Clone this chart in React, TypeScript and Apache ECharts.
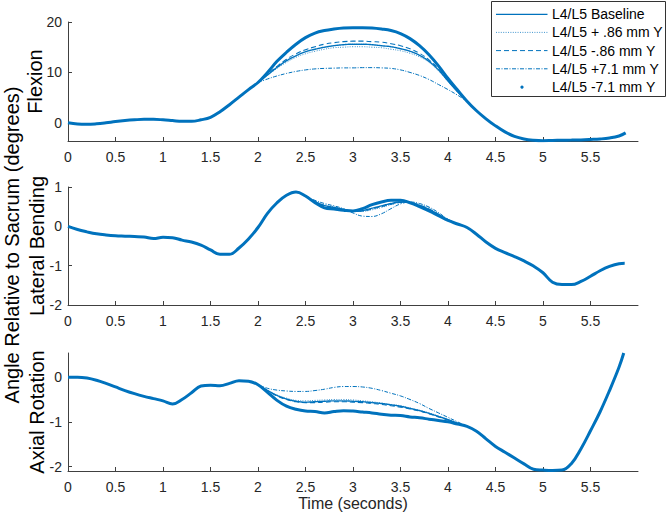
import React, { useEffect, useRef } from "react";
import * as echarts from "echarts";

const FONT = "'Liberation Sans', Arial, Helvetica, sans-serif";
const BLUE = "#0072BD";
const AXIS = "#404040";

const seriesNames = [
  "L4/L5 Baseline",
  "L4/L5 + .86 mm Y",
  "L4/L5 -.86 mm Y",
  "L4/L5 +7.1 mm Y",
  "L4/L5 -7.1 mm Y",
];
const panelTitles = ["Flexion", "Lateral Bending", "Axial Rotation"];
const mainYLabel = "Angle Relative to Sacrum (degrees)";
const xLabel = "Time (seconds)";
const xTicks = [0, 0.5, 1, 1.5, 2, 2.5, 3, 3.5, 4, 4.5, 5, 5.5];
const flexTicks = [0, 10, 20];
const latTicks = [-2, -1, 0, 1];
const axTicks = [-2, -1, 0];

// time samples of the baseline curves
const tBase = [
  0, 0.1, 0.2, 0.3, 0.4, 0.5, 0.6, 0.7, 0.8, 0.9, 1.0, 1.1, 1.2, 1.3, 1.4, 1.5, 1.6, 1.7, 1.8, 1.9,
  2.0, 2.1, 2.2, 2.3, 2.4, 2.5, 2.6, 2.7, 2.8, 2.9, 3.0, 3.1, 3.2, 3.3, 3.4, 3.5, 3.6, 3.7, 3.8, 3.9,
  4.0, 4.1, 4.2, 4.3, 4.4, 4.5, 4.6, 4.7, 4.8, 4.9, 5.0, 5.1, 5.2, 5.3, 5.4, 5.5, 5.6, 5.7, 5.8,
];

// ---- Flexion ----
const flexBaseline = [
  0, -0.25, -0.3, -0.2, 0.0, 0.25, 0.45, 0.6, 0.7, 0.7, 0.6, 0.45, 0.3, 0.3, 0.6, 1.1, 2.2, 3.6, 5.1, 6.6,
  8.0, 10.0, 12.2, 14.0, 15.6, 16.9, 17.8, 18.3, 18.6, 18.8, 18.85, 18.85, 18.8, 18.6, 18.3, 17.7, 16.7, 15.3, 13.5, 11.3,
  8.8, 6.5, 4.3, 2.4, 0.8, -0.6, -1.8, -2.7, -3.2, -3.45, -3.55, -3.5, -3.45, -3.42, -3.38, -3.3, -3.2, -3.0, -2.6,
];
const flexEnd = [5.87, -2.0];
const tFlexWin = [2.0, 2.1, 2.2, 2.3, 2.4, 2.5, 2.6, 2.7, 2.8, 2.9, 3.0, 3.1, 3.2, 3.3, 3.4, 3.5, 3.6, 3.7, 3.8, 3.9, 4.0, 4.1, 4.2];
const flexPlus086 = [8.0, 9.4, 10.8, 12.0, 13.0, 13.7, 14.2, 14.6, 14.9, 15.0, 15.1, 15.1, 15.0, 14.9, 14.6, 14.3, 13.8, 13.1, 12.0, 10.3, 8.2, 6.1, 4.3];
const flexMinus086 = [8.0, 9.6, 11.2, 12.6, 13.7, 14.5, 15.1, 15.6, 15.9, 16.1, 16.2, 16.2, 16.1, 16.0, 15.7, 15.3, 14.7, 13.8, 12.5, 10.7, 8.4, 6.3, 4.3];
const flexPlus71 = [8.0, 8.7, 9.3, 9.8, 10.2, 10.5, 10.7, 10.8, 10.85, 10.9, 10.9, 10.95, 10.95, 10.9, 10.8, 10.5, 10.0, 9.4, 8.6, 7.6, 6.6, 5.5, 4.3];
const flexMinus71 = [8.0, 9.5, 11.0, 12.3, 13.3, 14.1, 14.6, 15.0, 15.3, 15.5, 15.6, 15.6, 15.5, 15.3, 15.1, 14.7, 14.2, 13.4, 12.2, 10.5, 8.3, 6.2, 4.3];

// ---- Lateral bending ----
const latBaseline = [
  0, -0.08, -0.14, -0.19, -0.22, -0.24, -0.25, -0.26, -0.27, -0.31, -0.28, -0.29, -0.35, -0.4, -0.48, -0.6, -0.71, -0.71, -0.55, -0.32,
  -0.03, 0.33, 0.6, 0.79, 0.87, 0.77, 0.6, 0.47, 0.44, 0.41, 0.39, 0.45, 0.55, 0.62, 0.66, 0.66, 0.6, 0.5, 0.39, 0.27,
  0.15, 0.06, -0.03, -0.2, -0.4, -0.56, -0.67, -0.77, -0.88, -1.01, -1.18, -1.42, -1.48, -1.48, -1.4, -1.27, -1.13, -1.02, -0.95,
];
const latEnd = [5.86, -0.94];
const tLatWin = [2.5, 2.6, 2.7, 2.8, 2.9, 3.0, 3.1, 3.2, 3.3, 3.4, 3.5, 3.6, 3.7, 3.8, 3.9, 4.0, 4.1];
const latPlus086 = [0.77, 0.64, 0.55, 0.5, 0.44, 0.38, 0.38, 0.42, 0.48, 0.55, 0.6, 0.61, 0.56, 0.46, 0.33, 0.17, 0.06];
const latMinus086 = [0.77, 0.62, 0.51, 0.47, 0.43, 0.38, 0.39, 0.44, 0.5, 0.56, 0.61, 0.6, 0.54, 0.44, 0.31, 0.16, 0.06];
const latPlus71 = [0.77, 0.66, 0.58, 0.52, 0.45, 0.34, 0.26, 0.25, 0.32, 0.45, 0.57, 0.62, 0.58, 0.49, 0.35, 0.18, 0.06];
const latMinus71 = [0.77, 0.63, 0.53, 0.48, 0.43, 0.38, 0.4, 0.46, 0.52, 0.58, 0.62, 0.6, 0.53, 0.43, 0.3, 0.16, 0.06];

// ---- Axial rotation ----
const axBaseline = [
  0, 0.0, -0.02, -0.07, -0.14, -0.22, -0.3, -0.37, -0.43, -0.48, -0.53, -0.6, -0.5, -0.35, -0.2, -0.18, -0.19, -0.14, -0.08, -0.09,
  -0.17, -0.34, -0.52, -0.65, -0.72, -0.76, -0.77, -0.8, -0.77, -0.75, -0.76, -0.78, -0.8, -0.83, -0.85, -0.86, -0.89, -0.91, -0.94, -0.97,
  -1.0, -1.05, -1.1, -1.21, -1.38, -1.55, -1.68, -1.81, -1.94, -2.06, -2.08, -2.09, -2.08, -1.93, -1.6, -1.2, -0.78, -0.3, 0.22,
];
const axEnd = [5.85, 0.54];
const tAxWin = [2.0, 2.1, 2.2, 2.3, 2.4, 2.5, 2.6, 2.7, 2.8, 2.9, 3.0, 3.1, 3.2, 3.3, 3.4, 3.5, 3.6, 3.7, 3.8, 3.9, 4.0, 4.1, 4.2];
const axPlus086 = [-0.17, -0.29, -0.4, -0.47, -0.52, -0.53, -0.52, -0.51, -0.5, -0.5, -0.51, -0.53, -0.55, -0.58, -0.61, -0.64, -0.69, -0.74, -0.8, -0.87, -0.95, -1.03, -1.1];
const axMinus086 = [-0.17, -0.3, -0.42, -0.5, -0.55, -0.57, -0.57, -0.56, -0.55, -0.55, -0.56, -0.57, -0.59, -0.61, -0.64, -0.67, -0.71, -0.76, -0.82, -0.89, -0.96, -1.04, -1.1];
const axPlus71 = [-0.17, -0.25, -0.29, -0.31, -0.32, -0.32, -0.3, -0.27, -0.23, -0.21, -0.21, -0.22, -0.25, -0.3, -0.36, -0.42, -0.5, -0.59, -0.7, -0.8, -0.9, -1.0, -1.1];
const axMinus71 = [-0.17, -0.3, -0.41, -0.49, -0.54, -0.56, -0.55, -0.54, -0.53, -0.53, -0.54, -0.55, -0.57, -0.59, -0.62, -0.65, -0.7, -0.75, -0.81, -0.88, -0.95, -1.03, -1.1];

const yRanges = [
  { min: -3.6, max: 20, ticks: flexTicks },
  { min: -2, max: 1, ticks: latTicks },
  { min: -2.1, max: 0.54, ticks: axTicks },
];

const grids = [
  { left: 68, top: 22, width: 570, height: 119 },
  { left: 68, top: 187, width: 570, height: 118 },
  { left: 68, top: 353, width: 570, height: 118 },
];

const styles = [
  { width: 3, type: "solid" as any, opacity: 1 },
  { width: 1, type: [1, 1.4] as any, opacity: 0.75 },
  { width: 1.1, type: [5, 3] as any, opacity: 1 },
  { width: 1, type: [4, 1.5, 1, 1.5] as any, opacity: 1 },
  { width: 1.4, type: [1, 0.8] as any, opacity: 1 },
];

function pairs(ts: number[], vs: number[]) {
  return ts.map((t, i) => [t, vs[i]]);
}

export default function App() {
  const ref = useRef<HTMLDivElement>(null);
  useEffect(() => {
    if (!ref.current) return;
    const chart = echarts.init(ref.current, undefined, { renderer: "svg" });

    const panels = [
      { base: pairs(tBase, flexBaseline).concat([flexEnd]), win: tFlexWin, vars: [flexPlus086, flexMinus086, flexPlus71, flexMinus71] },
      { base: pairs(tBase, latBaseline).concat([latEnd]), win: tLatWin, vars: [latPlus086, latMinus086, latPlus71, latMinus71] },
      { base: pairs(tBase, axBaseline).concat([axEnd]), win: tAxWin, vars: [axPlus086, axMinus086, axPlus71, axMinus71] },
    ];

    const series: any[] = [];
    panels.forEach((p, pi) => {
      const datas = [p.base, ...p.vars.map((v) => pairs(p.win, v))];
      [1, 2, 3, 4, 0].forEach((si) => {
        series.push({
          type: "line",
          name: seriesNames[si],
          xAxisIndex: pi,
          yAxisIndex: pi,
          data: datas[si],
          smooth: 0.4,
          showSymbol: false,
          symbol: "none",
          silent: true,
          z: si === 0 ? 3 : 2,
          lineStyle: {
            color: BLUE,
            width: styles[si].width,
            type: styles[si].type,
            opacity: styles[si].opacity,
            cap: si === 4 ? "round" : "butt",
          },
        });
      });
    });

    const axisCommon = {
      axisLine: { show: true, onZero: false, lineStyle: { color: AXIS, width: 1 } },
      axisTick: { show: true, inside: true, length: 4, lineStyle: { color: AXIS, width: 1 } },
      splitLine: { show: false },
    };

    const xAxes = grids.map((_, i) => ({
      type: "value",
      gridIndex: i,
      min: 0,
      max: 6,
      interval: 0.5,
      ...axisCommon,
      axisTick: { ...axisCommon.axisTick, customValues: xTicks },
      axisLabel: {
        customValues: xTicks,
        color: "#262626",
        fontSize: 14,
        fontFamily: FONT,
        margin: 9,
      },
      ...(i === 2
        ? {
            name: xLabel,
            nameLocation: "middle",
            nameGap: 24,
            nameTextStyle: { color: "#262626", fontSize: 16, fontFamily: FONT },
          }
        : {}),
    }));

    const yAxes = yRanges.map((r, i) => ({
      type: "value",
      gridIndex: i,
      min: r.min,
      max: r.max,
      ...axisCommon,
      axisTick: { ...axisCommon.axisTick, customValues: r.ticks },
      axisLabel: {
        customValues: r.ticks,
        color: "#262626",
        fontSize: 14,
        fontFamily: FONT,
        margin: 6,
      },
    }));

    const legendX0 = 491;
    const legendRows = [14.3, 32.4, 50.6, 68.8, 87.2];
    const legendGraphics: any[] = [
      {
        type: "rect",
        shape: { x: 491.5, y: 1.5, width: 174, height: 95 },
        style: { fill: "#fff", stroke: "#333", lineWidth: 1 },
        z: 10,
      },
    ];
    seriesNames.forEach((name, i) => {
      const y = legendRows[i];
      if (i === 4) {
        legendGraphics.push({
          type: "circle",
          shape: { cx: 522, cy: y, r: 1.6 },
          style: { fill: BLUE },
          z: 11,
        });
      } else {
        const dash = styles[i].type === "solid" ? null : styles[i].type;
        legendGraphics.push({
          type: "line",
          shape: { x1: legendX0 + 5, y1: y, x2: 547.5, y2: y },
          style: {
            stroke: BLUE,
            lineWidth: i === 0 ? 1.3 : 1,
            lineDash: dash,
            opacity: styles[i].opacity,
          },
          z: 11,
        });
      }
      legendGraphics.push({
        type: "text",
        x: 552,
        y,
        style: {
          text: name,
          fill: "#000",
          fontSize: 14,
          fontFamily: FONT,
          align: "left",
          verticalAlign: "middle",
        },
        z: 11,
      });
    });

    const panelLabelX = [35, 37, 37];
    const labelGraphics: any[] = panelTitles.map((t, i) => ({
      type: "text",
      x: panelLabelX[i],
      y: grids[i].top + grids[i].height / 2,
      rotation: Math.PI / 2,
      style: {
        text: t,
        fill: "#000",
        fontSize: 20,
        fontFamily: FONT,
        align: "center",
        verticalAlign: "middle",
      },
    }));
    labelGraphics.push({
      type: "text",
      x: 12,
      y: 245,
      rotation: Math.PI / 2,
      style: {
        text: mainYLabel,
        fill: "#000",
        fontSize: 20,
        fontFamily: FONT,
        align: "center",
        verticalAlign: "middle",
      },
    });

    chart.setOption({
      animation: false,
      backgroundColor: "#fff",
      grid: grids.map((g) => ({ ...g, containLabel: false })),
      xAxis: xAxes,
      yAxis: yAxes,
      series,
      graphic: [...labelGraphics, ...legendGraphics],
    });

    return () => chart.dispose();
  }, []);

  return (
    <div
      ref={ref}
      style={{ position: "absolute", left: 0, top: 0, width: 671, height: 516, background: "#fff" }}
    />
  );
}
